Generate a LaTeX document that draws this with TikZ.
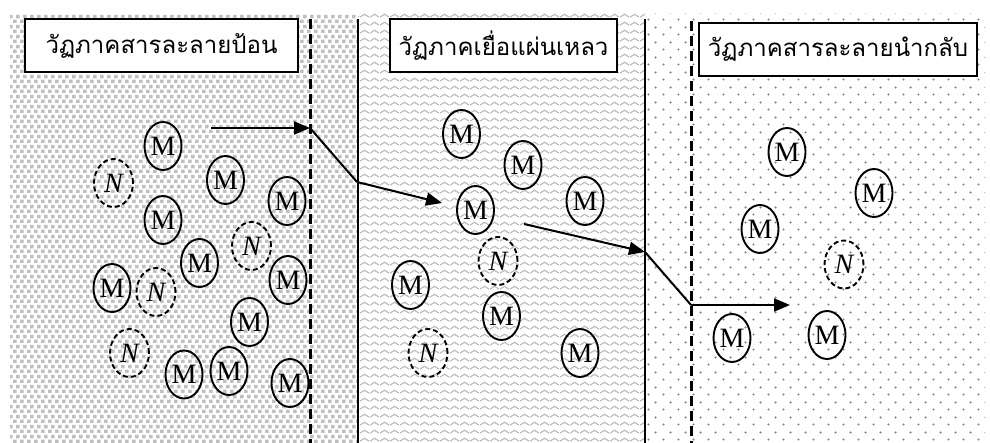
\documentclass[tikz,border=0pt]{standalone}
\usepackage{fontspec}
\setmainfont{Liberation Serif}
\newfontfamily\thaifont[Script=Thai]{Loma}
\usetikzlibrary{shapes.geometric,arrows.meta,patterns}
\pgfdeclarepatternformonly{stipplesq}{\pgfpointorigin}{\pgfpoint{6.6pt}{10pt}}{\pgfpoint{6.6pt}{10pt}}{%
  \pgfpathrectangle{\pgfpoint{0pt}{0pt}}{\pgfpoint{3.8pt}{3.8pt}}%
  \pgfpathrectangle{\pgfpoint{3.3pt}{5pt}}{\pgfpoint{3.8pt}{3.8pt}}%
  \pgfusepath{fill}}
\pgfdeclarepatternformonly{wavelines}{\pgfpoint{0pt}{0pt}}{\pgfpoint{10pt}{7.5pt}}{\pgfpoint{10pt}{7.5pt}}{%
  \pgfsetlinewidth{1.2pt}%
  \pgfpathmoveto{\pgfpoint{0pt}{2pt}}%
  \pgfpathcurveto{\pgfpoint{2.5pt}{2pt}}{\pgfpoint{2.5pt}{5pt}}{\pgfpoint{5pt}{5pt}}%
  \pgfpathcurveto{\pgfpoint{7.5pt}{5pt}}{\pgfpoint{7.5pt}{2pt}}{\pgfpoint{10pt}{2pt}}%
  \pgfusepath{stroke}}
\pgfdeclarepatternformonly{sparsedots}{\pgfpoint{0pt}{0pt}}{\pgfpoint{15pt}{15pt}}{\pgfpoint{15pt}{15pt}}{%
  \pgfpathcircle{\pgfpoint{3.75pt}{3.75pt}}{1.25pt}%
  \pgfpathcircle{\pgfpoint{11.25pt}{11.25pt}}{1.25pt}%
  \pgfusepath{fill}}
\tikzset{
  mol/.style={ellipse,draw,line width=1.9pt,minimum width=37pt,minimum height=48pt,inner sep=0pt,font=\fontsize{28}{28}\selectfont},
  nmol/.style={mol,dash pattern=on 5pt off 3pt,minimum width=39pt,font=\fontsize{28}{28}\selectfont\itshape},
  titlebox/.style={draw,line width=2pt,fill=white,inner sep=0pt,font=\thaifont\fontsize{24}{24}\selectfont},
  dashwall/.style={line width=3pt,dash pattern=on 10pt off 5pt},
  solidwall/.style={line width=2.6pt},
  flow/.style={line width=2pt},
  flowarrow/.style={flow,-{Triangle[length=16pt,width=13pt]}}
}
\begin{document}
\begin{tikzpicture}[x=1pt,y=-1pt]
\useasboundingbox (0,0) rectangle (990,443);
% backgrounds
\fill[pattern=stipplesq,pattern color=gray!50] (10,14) rectangle (358,443);
\fill[pattern=wavelines,pattern color=gray!55] (358,14) rectangle (645,443);
\fill[pattern=sparsedots,pattern color=gray] (645,14) rectangle (985,443);
% walls
\draw[dashwall] (310,19) -- (310,443);
\draw[solidwall] (358,19) -- (358,443);
\draw[solidwall] (645,19) -- (645,443);
\draw[dashwall] (691,21) -- (691,443);
% title boxes
\node[titlebox,minimum width=273pt,minimum height=53pt] (t1) at (161.5,45.5) {วัฏภาคสารละลายป้อน};
\node[titlebox,minimum width=227pt,minimum height=53pt] (t2) at (503.5,45.5) {วัฏภาคเยื่อแผ่นเหลว};
\node[titlebox,minimum width=278pt,minimum height=53pt] (t3) at (838,49.5) {วัฏภาคสารละลายนำกลับ};
% feed phase molecules
\node[mol] (a1) at (163,146) {M};
\node[nmol] (a2) at (113.5,183) {N};
\node[mol] (a3) at (225.5,180) {M};
\node[mol] (a4) at (287,201) {M};
\node[mol] (a5) at (163,220) {M};
\node[nmol] (a6) at (251.5,246) {N};
\node[mol] (a7) at (199.5,263) {M};
\node[mol] (a8) at (112,288) {M};
\node[nmol] (a9) at (156,292) {N};
\node[mol] (a10) at (288,280) {M};
\node[mol] (a11) at (249.5,322) {M};
\node[nmol] (a12) at (129.5,353) {N};
\node[mol] (a13) at (184,374.5) {M};
\node[mol] (a14) at (229,371) {M};
\node[mol] (a15) at (290,383) {M};
% membrane phase molecules
\node[mol] (b1) at (461.5,134) {M};
\node[mol] (b2) at (523,165) {M};
\node[mol] (b3) at (585,201) {M};
\node[mol] (b4) at (475.5,210) {M};
\node[nmol] (b5) at (498,261) {N};
\node[mol] (b6) at (410.5,285) {M};
\node[mol] (b7) at (501.5,316) {M};
\node[nmol] (b8) at (428,353) {N};
\node[mol] (b9) at (580,353) {M};
% strip phase molecules
\node[mol] (c1) at (787,152) {M};
\node[mol] (c2) at (874,193) {M};
\node[mol] (c3) at (760,229) {M};
\node[nmol] (c4) at (844,264.5) {N};
\node[mol] (c5) at (732,338) {M};
\node[mol] (c6) at (827,335) {M};
% transport paths
\coordinate (p1) at (211,128);
\coordinate (p2) at (310,128);
\coordinate (p3) at (357,182);
\coordinate (p4) at (442,203);
\coordinate (q1) at (524,224);
\coordinate (q2) at (645,252);
\coordinate (q3) at (691,305);
\coordinate (q4) at (790,305);
\draw[flowarrow] (p1) -- (p2);
\draw[flow] (p2) -- (p3);
\draw[flowarrow] (p3) -- (p4);
\draw[flowarrow] (q1) -- (q2);
\draw[flow] (q2) -- (q3);
\draw[flowarrow] (q3) -- (q4);
\end{tikzpicture}
\end{document}
